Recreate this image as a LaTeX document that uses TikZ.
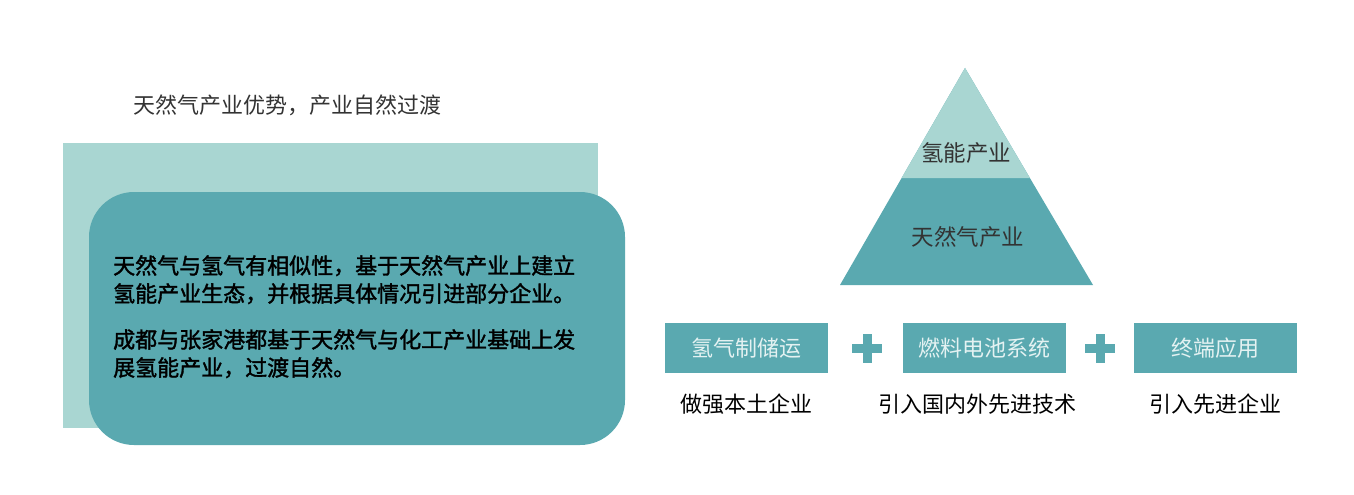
\documentclass[tikz,border=0pt]{standalone}
\usepackage{fontspec}
\usetikzlibrary{calc}
\setmainfont{Noto Sans CJK SC}
\newfontfamily\cjkbold[FakeBold=1.6]{Noto Sans CJK SC}
\definecolor{lightteal}{HTML}{A9D6D2}
\definecolor{darkteal}{HTML}{5AA9B0}
\definecolor{txtgray}{HTML}{333333}
\definecolor{boxtxt}{HTML}{E4F2F2}
\begin{document}
\begin{tikzpicture}[x=1pt,y=-1pt,
  title/.style={text=txtgray,font=\fontsize{22}{26}\selectfont,anchor=west,inner sep=0},
  bodytxt/.style={text=black,font=\cjkbold\fontsize{22}{28}\selectfont,anchor=north west,inner sep=0,align=left},
  tritxt/.style={text=txtgray,font=\fontsize{22.5}{26}\selectfont,inner sep=0},
  stagebox/.style={fill=darkteal,minimum width=163pt,minimum height=50pt,inner sep=0,text=boxtxt,font=\fontsize{22}{26}\selectfont},
  undertxt/.style={text=black,font=\fontsize{22}{26}\selectfont,inner sep=0},
  plusbar/.style={fill=darkteal,draw=none}]
\useasboundingbox (0,0) rectangle (1354,495);
\fill[white] (0,0) rectangle (1354,495);
% title
\node[title] (title) at (133,105) {天然气产业优势，产业自然过渡};
% left panel
\fill[lightteal] (63,143) rectangle (598,428);
\fill[darkteal,rounded corners=45pt] (89,192) rectangle (625,445);
\node[bodytxt] (body) at (113,255) {天然气与氢气有相似性，基于天然气产业上建立\\氢能产业生态，并根据具体情况引进部分企业。\\[18pt]成都与张家港都基于天然气与化工产业基础上发\\展氢能产业，过渡自然。};
% pyramid
\coordinate (apex) at (965,68);
\coordinate (bl) at (840,285);
\coordinate (br) at (1093,285);
\fill[darkteal] (apex) -- (bl) -- (br) -- cycle;
\fill[lightteal] (apex) -- ($(apex)!0.507!(bl)$) -- ($(apex)!0.507!(br)$) -- cycle;
\node[tritxt] (hyd) at (966,153) {氢能产业};
\node[tritxt] (gas) at (968,237) {天然气产业};
% stage boxes
\node[stagebox] (b1) at (746.5,348) {氢气制储运};
\node[stagebox] (b2) at (984.5,348) {燃料电池系统};
\node[stagebox] (b3) at (1215,348) {终端应用};
% plus signs
\fill[plusbar] (852,344) rectangle (882,353);
\fill[plusbar] (862.5,334) rectangle (871.5,363);
\fill[plusbar] (1085,344) rectangle (1115,353);
\fill[plusbar] (1095.5,334) rectangle (1104.5,363);
% labels below
\node[undertxt] (u1) at (746,404) {做强本土企业};
\node[undertxt] (u2) at (977,404) {引入国内外先进技术};
\node[undertxt] (u3) at (1215,404) {引入先进企业};
\end{tikzpicture}
\end{document}
